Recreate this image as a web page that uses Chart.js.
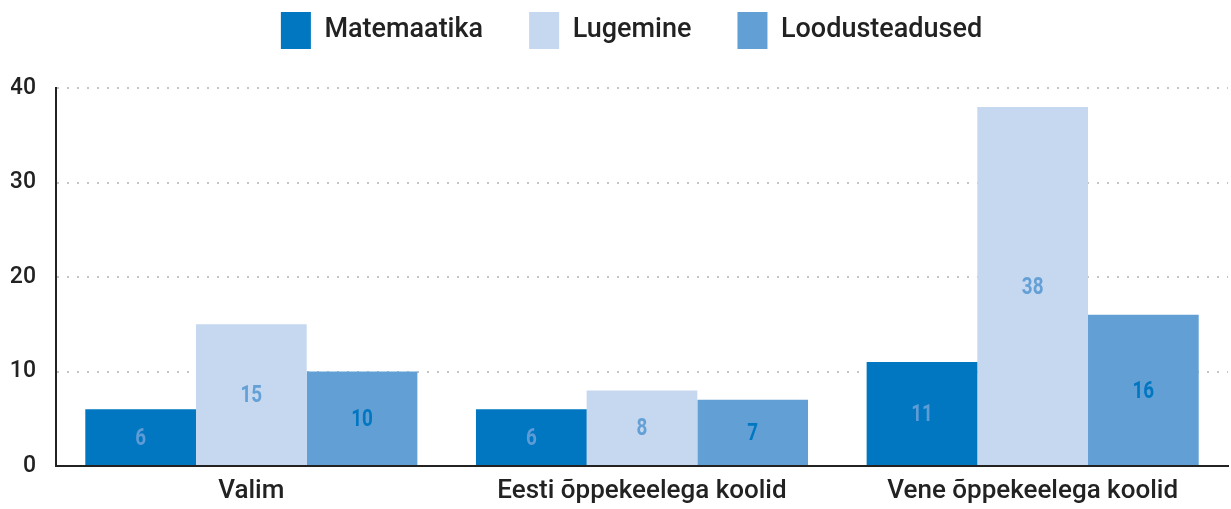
<!DOCTYPE html>
<html>
<head>
<meta charset="utf-8">
<script src="https://cdn.jsdelivr.net/npm/chart.js@4"></script>
<style>
  html, body { margin: 0; padding: 0; background: #fff; }
  #wrap { width: 1231px; height: 509px; }
</style>
</head>
<body>
<div id="wrap"><canvas id="mycanvas" width="1231" height="509"></canvas></div>
<script>
var categories = ["Valim", "Eesti õppekeelega koolid", "Vene õppekeelega koolid"];
var matemaatika = [6, 6, 11];
var lugemine = [15, 8, 38];
var loodusteadused = [10, 7, 16];
var yTicks = [0, 10, 20, 30, 40];

// numbers written in the middle of each bar (narrowed a bit, the original uses a condensed face)
var barLabels = {
  id: "barLabels",
  afterDatasetsDraw: function(chart) {
    var ctx = chart.ctx;
    chart.data.datasets.forEach(function(ds, i) {
      var meta = chart.getDatasetMeta(i);
      meta.data.forEach(function(bar, j) {
        var mid = (bar.y + bar.base) / 2;
        ctx.save();
        ctx.translate(bar.x, mid + 2);
        ctx.scale(0.82, 1);
        ctx.font = "bold 23px Roboto";
        ctx.textAlign = "center";
        ctx.textBaseline = "middle";
        ctx.fillStyle = ds.labelColor;
        ctx.fillText(ds.data[j], 0, 0);
        ctx.restore();
      });
    });
  }
};

// legend keeps its reserved height, but is drawn higher and a bit right of centre
var legendShift = {
  id: "legendShift",
  afterLayout: function(chart) {
    var lg = chart.legend;
    var h = lg.height;
    lg.top = -34;
    lg.bottom = lg.top + h;
    lg.left += 12;
    lg.right += 12;
  }
};

var chartdata = {
  labels: categories,
  datasets: [
    { label: "Matemaatika", data: matemaatika, backgroundColor: "#0077c0", labelColor: "#5d9cd6" },
    { label: "Lugemine", data: lugemine, backgroundColor: "#c5d8ef", labelColor: "#64a0d6" },
    { label: "Loodusteadused", data: loodusteadused, backgroundColor: "#629fd5", labelColor: "#0077c0" }
  ]
};

var ctx = document.getElementById("mycanvas");

var BarGraph = new Chart(ctx, {
  type: "bar",
  data: chartdata,
  plugins: [barLabels, legendShift],
  options: {
    responsive: false,
    animation: false,
    layout: { padding: { left: 11, right: 3, top: -5, bottom: 0 } },
    datasets: { bar: { barPercentage: 1, categoryPercentage: 0.85 } },
    scales: {
      x: {
        grid: { display: false, drawTicks: false },
        border: { display: true, color: "#222", width: 2 },
        ticks: { color: "#222", font: { family: "Roboto", size: 26, weight: "500" }, padding: 10 },
        afterFit: function(axis) { axis.height = 43; }
      },
      y: {
        min: 0, max: 40,
        afterBuildTicks: function(axis) { axis.ticks = yTicks.map(function(v) { return { value: v }; }); },
        grid: { color: "#c4c4c4", lineWidth: 2, drawTicks: false },
        border: { display: true, color: "#222", width: 2, dash: [2, 8] },
        ticks: { color: "#222", font: { family: "Roboto", size: 23, weight: "500" }, padding: 20 },
        afterFit: function(axis) { axis.width = 45; }
      }
    },
    plugins: {
      legend: {
        position: "top",
        labels: {
          color: "#222",
          font: { family: "Roboto", size: 27, weight: "500" },
          boxWidth: 30, boxHeight: 37,
          padding: 46
        }
      },
      tooltip: { enabled: false }
    }
  }
});
</script>
</body>
</html>
